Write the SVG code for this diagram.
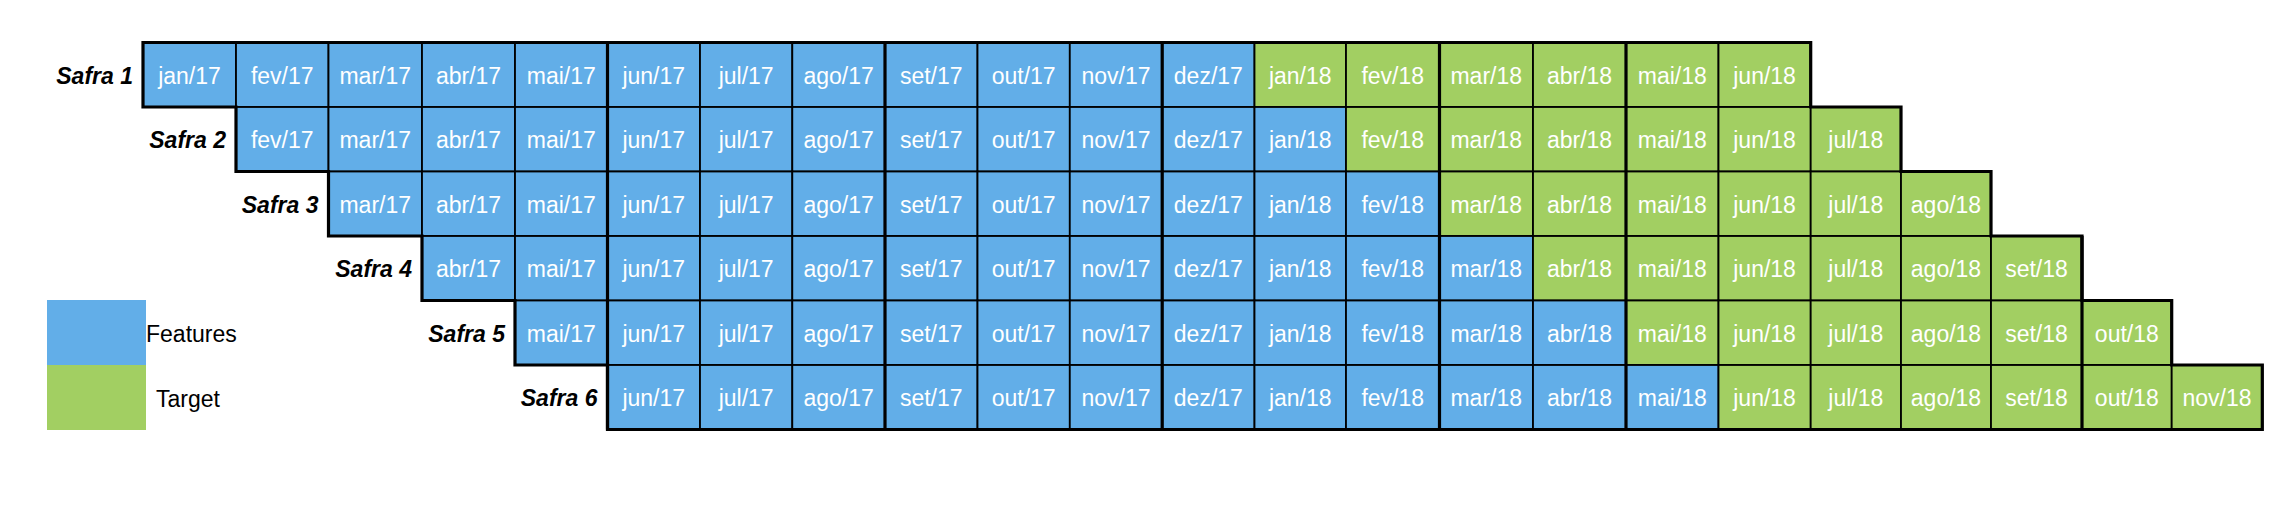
<svg xmlns="http://www.w3.org/2000/svg" width="2288" height="506" viewBox="0 0 2288 506">
<style>
.f{fill:#62AEE8}
.t{fill:#A2CF62}
.g rect{stroke:#000;stroke-width:1.8}
.g text{font-family:"Liberation Sans",Arial,sans-serif;font-size:23px;fill:#fff;text-anchor:middle}
.g text.s{font-weight:bold;font-style:italic;fill:#000;text-anchor:end}
.lg{font-family:"Liberation Sans",Arial,sans-serif;font-size:23px;fill:#000}
.thick{stroke:#000;stroke-width:3.2;fill:none}
</style>
<rect width="2288" height="506" fill="#fff"/>
<g id="safra-1" class="g" transform="translate(0,42.5)">
<text class="s" x="133" y="41">Safra 1</text>
<g id="r1c0"><rect class="f" x="143" y="0" width="93" height="64.5"/><text x="189.5" y="41">jan/17</text></g>
<g id="r1c1"><rect class="f" x="236" y="0" width="92.5" height="64.5"/><text x="282.25" y="41">fev/17</text></g>
<g id="r1c2"><rect class="f" x="328.5" y="0" width="93.5" height="64.5"/><text x="375.25" y="41">mar/17</text></g>
<g id="r1c3"><rect class="f" x="422" y="0" width="93" height="64.5"/><text x="468.5" y="41">abr/17</text></g>
<g id="r1c4"><rect class="f" x="515" y="0" width="92.5" height="64.5"/><text x="561.25" y="41">mai/17</text></g>
<g id="r1c5"><rect class="f" x="607.5" y="0" width="92.5" height="64.5"/><text x="653.75" y="41">jun/17</text></g>
<g id="r1c6"><rect class="f" x="700" y="0" width="92.3" height="64.5"/><text x="746.15" y="41">jul/17</text></g>
<g id="r1c7"><rect class="f" x="792.3" y="0" width="92.7" height="64.5"/><text x="838.65" y="41">ago/17</text></g>
<g id="r1c8"><rect class="f" x="885" y="0" width="92.5" height="64.5"/><text x="931.25" y="41">set/17</text></g>
<g id="r1c9"><rect class="f" x="977.5" y="0" width="92.3" height="64.5"/><text x="1023.65" y="41">out/17</text></g>
<g id="r1c10"><rect class="f" x="1069.8" y="0" width="92.4" height="64.5"/><text x="1116" y="41">nov/17</text></g>
<g id="r1c11"><rect class="f" x="1162.2" y="0" width="92.3" height="64.5"/><text x="1208.35" y="41">dez/17</text></g>
<g id="r1c12"><rect class="t" x="1254.5" y="0" width="91.5" height="64.5"/><text x="1300.25" y="41">jan/18</text></g>
<g id="r1c13"><rect class="t" x="1346" y="0" width="93.5" height="64.5"/><text x="1392.75" y="41">fev/18</text></g>
<g id="r1c14"><rect class="t" x="1439.5" y="0" width="93.5" height="64.5"/><text x="1486.25" y="41">mar/18</text></g>
<g id="r1c15"><rect class="t" x="1533" y="0" width="93" height="64.5"/><text x="1579.5" y="41">abr/18</text></g>
<g id="r1c16"><rect class="t" x="1626" y="0" width="92.5" height="64.5"/><text x="1672.25" y="41">mai/18</text></g>
<g id="r1c17"><rect class="t" x="1718.5" y="0" width="92.2" height="64.5"/><text x="1764.6" y="41">jun/18</text></g>
</g>
<g id="safra-2" class="g" transform="translate(0,107)">
<text class="s" x="226" y="41">Safra 2</text>
<g id="r2c1"><rect class="f" x="236" y="0" width="92.5" height="64.5"/><text x="282.25" y="41">fev/17</text></g>
<g id="r2c2"><rect class="f" x="328.5" y="0" width="93.5" height="64.5"/><text x="375.25" y="41">mar/17</text></g>
<g id="r2c3"><rect class="f" x="422" y="0" width="93" height="64.5"/><text x="468.5" y="41">abr/17</text></g>
<g id="r2c4"><rect class="f" x="515" y="0" width="92.5" height="64.5"/><text x="561.25" y="41">mai/17</text></g>
<g id="r2c5"><rect class="f" x="607.5" y="0" width="92.5" height="64.5"/><text x="653.75" y="41">jun/17</text></g>
<g id="r2c6"><rect class="f" x="700" y="0" width="92.3" height="64.5"/><text x="746.15" y="41">jul/17</text></g>
<g id="r2c7"><rect class="f" x="792.3" y="0" width="92.7" height="64.5"/><text x="838.65" y="41">ago/17</text></g>
<g id="r2c8"><rect class="f" x="885" y="0" width="92.5" height="64.5"/><text x="931.25" y="41">set/17</text></g>
<g id="r2c9"><rect class="f" x="977.5" y="0" width="92.3" height="64.5"/><text x="1023.65" y="41">out/17</text></g>
<g id="r2c10"><rect class="f" x="1069.8" y="0" width="92.4" height="64.5"/><text x="1116" y="41">nov/17</text></g>
<g id="r2c11"><rect class="f" x="1162.2" y="0" width="92.3" height="64.5"/><text x="1208.35" y="41">dez/17</text></g>
<g id="r2c12"><rect class="f" x="1254.5" y="0" width="91.5" height="64.5"/><text x="1300.25" y="41">jan/18</text></g>
<g id="r2c13"><rect class="t" x="1346" y="0" width="93.5" height="64.5"/><text x="1392.75" y="41">fev/18</text></g>
<g id="r2c14"><rect class="t" x="1439.5" y="0" width="93.5" height="64.5"/><text x="1486.25" y="41">mar/18</text></g>
<g id="r2c15"><rect class="t" x="1533" y="0" width="93" height="64.5"/><text x="1579.5" y="41">abr/18</text></g>
<g id="r2c16"><rect class="t" x="1626" y="0" width="92.5" height="64.5"/><text x="1672.25" y="41">mai/18</text></g>
<g id="r2c17"><rect class="t" x="1718.5" y="0" width="92.2" height="64.5"/><text x="1764.6" y="41">jun/18</text></g>
<g id="r2c18"><rect class="t" x="1810.7" y="0" width="90.3" height="64.5"/><text x="1855.85" y="41">jul/18</text></g>
</g>
<g id="safra-3" class="g" transform="translate(0,171.5)">
<text class="s" x="318.5" y="41">Safra 3</text>
<g id="r3c2"><rect class="f" x="328.5" y="0" width="93.5" height="64.5"/><text x="375.25" y="41">mar/17</text></g>
<g id="r3c3"><rect class="f" x="422" y="0" width="93" height="64.5"/><text x="468.5" y="41">abr/17</text></g>
<g id="r3c4"><rect class="f" x="515" y="0" width="92.5" height="64.5"/><text x="561.25" y="41">mai/17</text></g>
<g id="r3c5"><rect class="f" x="607.5" y="0" width="92.5" height="64.5"/><text x="653.75" y="41">jun/17</text></g>
<g id="r3c6"><rect class="f" x="700" y="0" width="92.3" height="64.5"/><text x="746.15" y="41">jul/17</text></g>
<g id="r3c7"><rect class="f" x="792.3" y="0" width="92.7" height="64.5"/><text x="838.65" y="41">ago/17</text></g>
<g id="r3c8"><rect class="f" x="885" y="0" width="92.5" height="64.5"/><text x="931.25" y="41">set/17</text></g>
<g id="r3c9"><rect class="f" x="977.5" y="0" width="92.3" height="64.5"/><text x="1023.65" y="41">out/17</text></g>
<g id="r3c10"><rect class="f" x="1069.8" y="0" width="92.4" height="64.5"/><text x="1116" y="41">nov/17</text></g>
<g id="r3c11"><rect class="f" x="1162.2" y="0" width="92.3" height="64.5"/><text x="1208.35" y="41">dez/17</text></g>
<g id="r3c12"><rect class="f" x="1254.5" y="0" width="91.5" height="64.5"/><text x="1300.25" y="41">jan/18</text></g>
<g id="r3c13"><rect class="f" x="1346" y="0" width="93.5" height="64.5"/><text x="1392.75" y="41">fev/18</text></g>
<g id="r3c14"><rect class="t" x="1439.5" y="0" width="93.5" height="64.5"/><text x="1486.25" y="41">mar/18</text></g>
<g id="r3c15"><rect class="t" x="1533" y="0" width="93" height="64.5"/><text x="1579.5" y="41">abr/18</text></g>
<g id="r3c16"><rect class="t" x="1626" y="0" width="92.5" height="64.5"/><text x="1672.25" y="41">mai/18</text></g>
<g id="r3c17"><rect class="t" x="1718.5" y="0" width="92.2" height="64.5"/><text x="1764.6" y="41">jun/18</text></g>
<g id="r3c18"><rect class="t" x="1810.7" y="0" width="90.3" height="64.5"/><text x="1855.85" y="41">jul/18</text></g>
<g id="r3c19"><rect class="t" x="1901" y="0" width="90" height="64.5"/><text x="1946" y="41">ago/18</text></g>
</g>
<g id="safra-4" class="g" transform="translate(0,236)">
<text class="s" x="412" y="41">Safra 4</text>
<g id="r4c3"><rect class="f" x="422" y="0" width="93" height="64.5"/><text x="468.5" y="41">abr/17</text></g>
<g id="r4c4"><rect class="f" x="515" y="0" width="92.5" height="64.5"/><text x="561.25" y="41">mai/17</text></g>
<g id="r4c5"><rect class="f" x="607.5" y="0" width="92.5" height="64.5"/><text x="653.75" y="41">jun/17</text></g>
<g id="r4c6"><rect class="f" x="700" y="0" width="92.3" height="64.5"/><text x="746.15" y="41">jul/17</text></g>
<g id="r4c7"><rect class="f" x="792.3" y="0" width="92.7" height="64.5"/><text x="838.65" y="41">ago/17</text></g>
<g id="r4c8"><rect class="f" x="885" y="0" width="92.5" height="64.5"/><text x="931.25" y="41">set/17</text></g>
<g id="r4c9"><rect class="f" x="977.5" y="0" width="92.3" height="64.5"/><text x="1023.65" y="41">out/17</text></g>
<g id="r4c10"><rect class="f" x="1069.8" y="0" width="92.4" height="64.5"/><text x="1116" y="41">nov/17</text></g>
<g id="r4c11"><rect class="f" x="1162.2" y="0" width="92.3" height="64.5"/><text x="1208.35" y="41">dez/17</text></g>
<g id="r4c12"><rect class="f" x="1254.5" y="0" width="91.5" height="64.5"/><text x="1300.25" y="41">jan/18</text></g>
<g id="r4c13"><rect class="f" x="1346" y="0" width="93.5" height="64.5"/><text x="1392.75" y="41">fev/18</text></g>
<g id="r4c14"><rect class="f" x="1439.5" y="0" width="93.5" height="64.5"/><text x="1486.25" y="41">mar/18</text></g>
<g id="r4c15"><rect class="t" x="1533" y="0" width="93" height="64.5"/><text x="1579.5" y="41">abr/18</text></g>
<g id="r4c16"><rect class="t" x="1626" y="0" width="92.5" height="64.5"/><text x="1672.25" y="41">mai/18</text></g>
<g id="r4c17"><rect class="t" x="1718.5" y="0" width="92.2" height="64.5"/><text x="1764.6" y="41">jun/18</text></g>
<g id="r4c18"><rect class="t" x="1810.7" y="0" width="90.3" height="64.5"/><text x="1855.85" y="41">jul/18</text></g>
<g id="r4c19"><rect class="t" x="1901" y="0" width="90" height="64.5"/><text x="1946" y="41">ago/18</text></g>
<g id="r4c20"><rect class="t" x="1991" y="0" width="91" height="64.5"/><text x="2036.5" y="41">set/18</text></g>
</g>
<g id="safra-5" class="g" transform="translate(0,300.5)">
<text class="s" x="505" y="41">Safra 5</text>
<g id="r5c4"><rect class="f" x="515" y="0" width="92.5" height="64.5"/><text x="561.25" y="41">mai/17</text></g>
<g id="r5c5"><rect class="f" x="607.5" y="0" width="92.5" height="64.5"/><text x="653.75" y="41">jun/17</text></g>
<g id="r5c6"><rect class="f" x="700" y="0" width="92.3" height="64.5"/><text x="746.15" y="41">jul/17</text></g>
<g id="r5c7"><rect class="f" x="792.3" y="0" width="92.7" height="64.5"/><text x="838.65" y="41">ago/17</text></g>
<g id="r5c8"><rect class="f" x="885" y="0" width="92.5" height="64.5"/><text x="931.25" y="41">set/17</text></g>
<g id="r5c9"><rect class="f" x="977.5" y="0" width="92.3" height="64.5"/><text x="1023.65" y="41">out/17</text></g>
<g id="r5c10"><rect class="f" x="1069.8" y="0" width="92.4" height="64.5"/><text x="1116" y="41">nov/17</text></g>
<g id="r5c11"><rect class="f" x="1162.2" y="0" width="92.3" height="64.5"/><text x="1208.35" y="41">dez/17</text></g>
<g id="r5c12"><rect class="f" x="1254.5" y="0" width="91.5" height="64.5"/><text x="1300.25" y="41">jan/18</text></g>
<g id="r5c13"><rect class="f" x="1346" y="0" width="93.5" height="64.5"/><text x="1392.75" y="41">fev/18</text></g>
<g id="r5c14"><rect class="f" x="1439.5" y="0" width="93.5" height="64.5"/><text x="1486.25" y="41">mar/18</text></g>
<g id="r5c15"><rect class="f" x="1533" y="0" width="93" height="64.5"/><text x="1579.5" y="41">abr/18</text></g>
<g id="r5c16"><rect class="t" x="1626" y="0" width="92.5" height="64.5"/><text x="1672.25" y="41">mai/18</text></g>
<g id="r5c17"><rect class="t" x="1718.5" y="0" width="92.2" height="64.5"/><text x="1764.6" y="41">jun/18</text></g>
<g id="r5c18"><rect class="t" x="1810.7" y="0" width="90.3" height="64.5"/><text x="1855.85" y="41">jul/18</text></g>
<g id="r5c19"><rect class="t" x="1901" y="0" width="90" height="64.5"/><text x="1946" y="41">ago/18</text></g>
<g id="r5c20"><rect class="t" x="1991" y="0" width="91" height="64.5"/><text x="2036.5" y="41">set/18</text></g>
<g id="r5c21"><rect class="t" x="2082" y="0" width="89.7" height="64.5"/><text x="2126.85" y="41">out/18</text></g>
</g>
<g id="safra-6" class="g" transform="translate(0,365)">
<text class="s" x="597.5" y="41">Safra 6</text>
<g id="r6c5"><rect class="f" x="607.5" y="0" width="92.5" height="64.5"/><text x="653.75" y="41">jun/17</text></g>
<g id="r6c6"><rect class="f" x="700" y="0" width="92.3" height="64.5"/><text x="746.15" y="41">jul/17</text></g>
<g id="r6c7"><rect class="f" x="792.3" y="0" width="92.7" height="64.5"/><text x="838.65" y="41">ago/17</text></g>
<g id="r6c8"><rect class="f" x="885" y="0" width="92.5" height="64.5"/><text x="931.25" y="41">set/17</text></g>
<g id="r6c9"><rect class="f" x="977.5" y="0" width="92.3" height="64.5"/><text x="1023.65" y="41">out/17</text></g>
<g id="r6c10"><rect class="f" x="1069.8" y="0" width="92.4" height="64.5"/><text x="1116" y="41">nov/17</text></g>
<g id="r6c11"><rect class="f" x="1162.2" y="0" width="92.3" height="64.5"/><text x="1208.35" y="41">dez/17</text></g>
<g id="r6c12"><rect class="f" x="1254.5" y="0" width="91.5" height="64.5"/><text x="1300.25" y="41">jan/18</text></g>
<g id="r6c13"><rect class="f" x="1346" y="0" width="93.5" height="64.5"/><text x="1392.75" y="41">fev/18</text></g>
<g id="r6c14"><rect class="f" x="1439.5" y="0" width="93.5" height="64.5"/><text x="1486.25" y="41">mar/18</text></g>
<g id="r6c15"><rect class="f" x="1533" y="0" width="93" height="64.5"/><text x="1579.5" y="41">abr/18</text></g>
<g id="r6c16"><rect class="f" x="1626" y="0" width="92.5" height="64.5"/><text x="1672.25" y="41">mai/18</text></g>
<g id="r6c17"><rect class="t" x="1718.5" y="0" width="92.2" height="64.5"/><text x="1764.6" y="41">jun/18</text></g>
<g id="r6c18"><rect class="t" x="1810.7" y="0" width="90.3" height="64.5"/><text x="1855.85" y="41">jul/18</text></g>
<g id="r6c19"><rect class="t" x="1901" y="0" width="90" height="64.5"/><text x="1946" y="41">ago/18</text></g>
<g id="r6c20"><rect class="t" x="1991" y="0" width="91" height="64.5"/><text x="2036.5" y="41">set/18</text></g>
<g id="r6c21"><rect class="t" x="2082" y="0" width="89.7" height="64.5"/><text x="2126.85" y="41">out/18</text></g>
<g id="r6c22"><rect class="t" x="2171.7" y="0" width="90.6" height="64.5"/><text x="2217" y="41">nov/18</text></g>
</g>
<g id="grid-lines">
<path class="thick" d="M607.5 42.5V429.5M885 42.5V429.5M1162.2 42.5V429.5M1439.5 42.5V429.5M1626 42.5V429.5M2082 236V429.5"/>
<path class="thick" d="M143 42.5H1810.7V107H1901V171.5H1991V236H2082V300.5H2171.7V365H2262.3V429.5H607.5V365H515V300.5H422V236H328.5V171.5H236V107H143Z"/>
</g>
<g id="legend">
<rect class="f" x="47" y="300" width="99" height="65"/>
<rect class="t" x="47" y="365" width="99" height="65"/>
<text class="lg" x="146" y="342">Features</text>
<text class="lg" x="156" y="407">Target</text>
</g>
</svg>
